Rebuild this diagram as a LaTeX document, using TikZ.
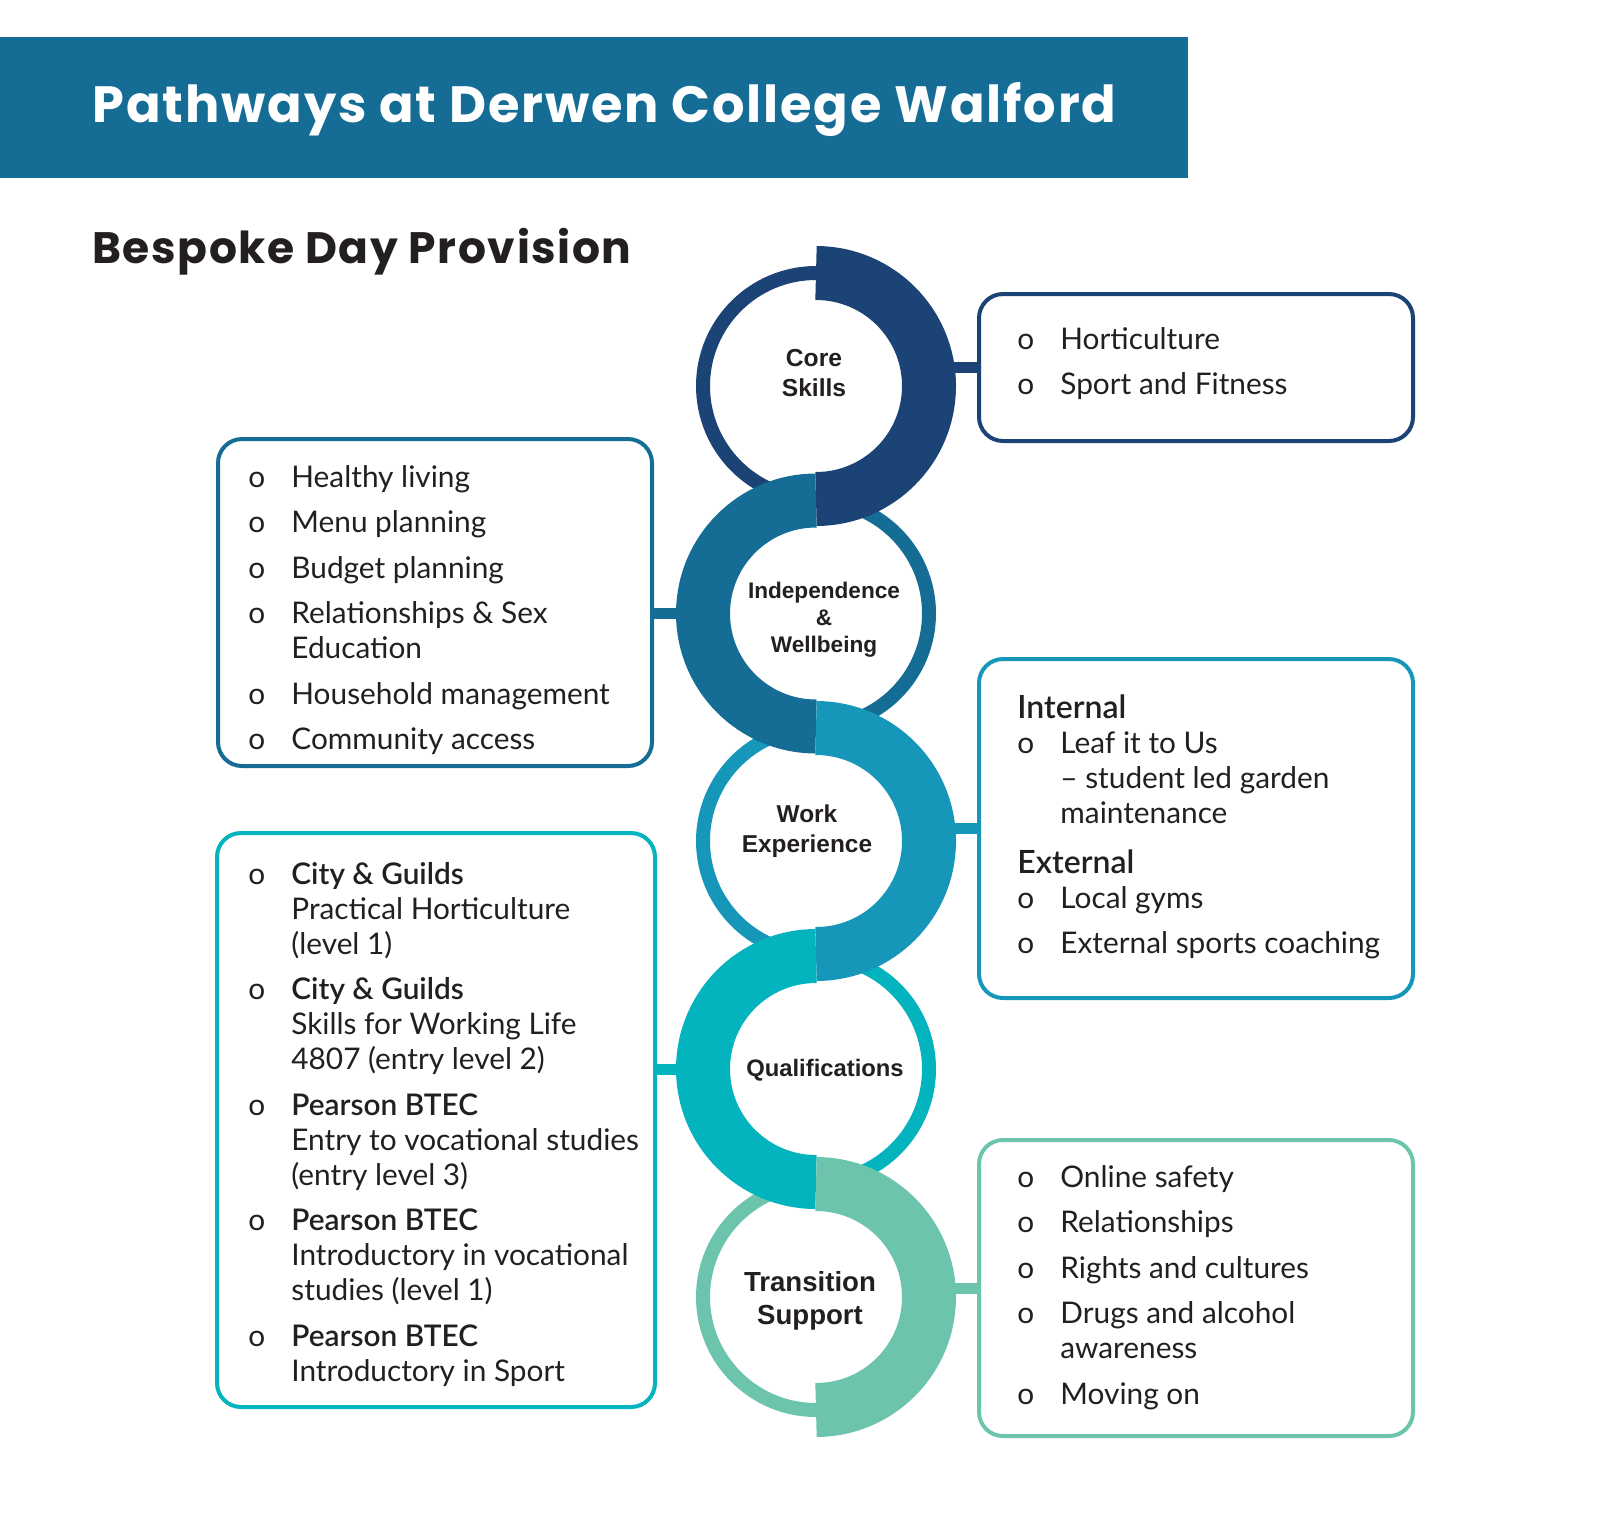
\documentclass[tikz,border=0pt]{standalone}
\usepackage{fontspec}
\setmainfont{Lato}
\newfontfamily\titlefont{Poppins}[LetterSpace=3.7]
\newfontfamily\subfont{Poppins}[LetterSpace=3.5]
\newfontfamily\ringfont{Liberation Sans}
\IfFontExistsTF{Lato Semibold}{\newfontfamily\semifont{Lato Semibold}}{\newcommand\semifont{\bfseries}}
\newcommand\headtext{\semifont\fontsize{16}{17.5}\selectfont}
\newcommand\bul{\makebox[21.5pt][l]{o}}

\definecolor{cscol}{HTML}{1B4375}
\definecolor{iwcol}{HTML}{156D95}
\definecolor{wecol}{HTML}{1697BA}
\definecolor{qucol}{HTML}{03B3BD}
\definecolor{tscol}{HTML}{6CC4AD}
\definecolor{ink}{HTML}{231F20}

\begin{document}
\begin{tikzpicture}[x=0.5pt, y=-0.5pt,
  box/.style={draw=#1, line width=2pt, rounded corners=12pt, inner sep=0pt},
  list/.style={anchor=base west, inner sep=0pt, text=ink, font=\fontsize{14.9}{17.5}\selectfont},
  link/.style={draw=#1, line width=5.5pt},
  ring/.style={draw=#1, line width=7pt, fill=white},
  half/.style={draw=#1, line width=27pt},
  lbl/.style={align=center, inner sep=0pt, text=ink}]
  \useasboundingbox (0,0) rectangle (1600,1512);

  % banner and headings
  \node[fill=iwcol, minimum width=594pt, minimum height=70.5pt, inner sep=0pt, anchor=north west] (banner) at (0,37) {};
  \node[anchor=base west, inner sep=0pt, text=white, font=\titlefont\bfseries\fontsize{25.5}{30}\selectfont] (title) at (92,122) {Pathways at Derwen College Walford};
  \node[anchor=base west, inner sep=0pt, text=ink, font=\subfont\bfseries\fontsize{22}{26}\selectfont] (subtitle) at (92,263) {Bespoke Day Provision};

  % ring centres
  \coordinate (c1) at (816,386);
  \coordinate (c2) at (816,613.5);
  \coordinate (c3) at (816,841);
  \coordinate (c4) at (816,1069);
  \coordinate (c5) at (816,1297);

  % boxes
  \node[box=cscol, minimum width=217pt, minimum height=73.5pt] (csbox) at (1196,367.5) {};
  \node[box=iwcol, minimum width=217pt, minimum height=163.5pt] (iwbox) at (435,602.5) {};
  \node[box=wecol, minimum width=217pt, minimum height=169.5pt] (webox) at (1196,828.5) {};
  \node[box=qucol, minimum width=219pt, minimum height=287pt] (qubox) at (436,1120) {};
  \node[box=tscol, minimum width=217pt, minimum height=148pt] (tsbox) at (1196,1288) {};

  % connectors
  \draw[link=cscol] (csbox.west) -- (csbox.west -| c1);
  \draw[link=iwcol] (c2) -- (c2 -| iwbox.east);
  \draw[link=wecol] (webox.west) -- (webox.west -| c3);
  \draw[link=qucol] (c4) -- (c4 -| qubox.east);
  \draw[link=tscol] (tsbox.west) -- (tsbox.west -| c5);

  % thin rings
  \draw[ring=cscol] (c1) circle[radius=56.5pt];
  \draw[ring=iwcol] (c2) circle[radius=56.5pt];
  \draw[ring=wecol] (c3) circle[radius=56.5pt];
  \draw[ring=qucol] (c4) circle[radius=56.5pt];
  \draw[ring=tscol] (c5) circle[radius=56.5pt];

  % thick halves
  \draw[half=cscol] (c1) ++(90:56.5pt) arc[start angle=90, end angle=-90, radius=56.5pt];
  \draw[half=iwcol] (c2) ++(90:56.5pt) arc[start angle=90, end angle=270, radius=56.5pt];
  \draw[half=wecol] (c3) ++(90:56.5pt) arc[start angle=90, end angle=-90, radius=56.5pt];
  \draw[half=qucol] (c4) ++(90:56.5pt) arc[start angle=90, end angle=270, radius=56.5pt];
  \draw[half=tscol] (c5) ++(90:56.5pt) arc[start angle=90, end angle=-90, radius=56.5pt];

  % ring labels
  \node[lbl, font=\ringfont\bfseries\fontsize{12.3}{15}\selectfont] (core) at (814,373) {Core\\Skills};
  \node[lbl, font=\ringfont\bfseries\fontsize{11.3}{13.5}\selectfont] (indep) at (824,620) {Independence\\\&\\Wellbeing};
  \node[lbl, font=\ringfont\bfseries\fontsize{12.2}{15}\selectfont] (work) at (807,831) {Work\\Experience};
  \node[lbl, font=\ringfont\bfseries\fontsize{11.9}{15}\selectfont] (qual) at (825,1070) {Qualifications};
  \node[lbl, font=\ringfont\bfseries\fontsize{13.8}{16.5}\selectfont] (trans) at (810,1301) {Transition\\Support};

  % box texts
  \node[list] (cstext) at (1017,349) {\begin{tabular}[t]{@{}l@{}l@{}}
    \bul & Horticulture\\[5.25pt]
    \bul & Sport and Fitness
  \end{tabular}};
  \node[list] (iwtext) at (248,487) {\begin{tabular}[t]{@{}l@{}l@{}}
    \bul & Healthy living\\[5.25pt]
    \bul & Menu planning\\[5.25pt]
    \bul & Budget planning\\[5.25pt]
    \bul & Relationships \& Sex\\
         & Education\\[5.25pt]
    \bul & Household management\\[5.25pt]
    \bul & Community access
  \end{tabular}};
  \node[list] (wetext) at (1017,718) {\begin{tabular}[t]{@{}l@{}l@{}}
    \multicolumn{2}{@{}l@{}}{\headtext Internal}\\
    \bul & Leaf it to Us\\
         & -- student led garden\\
         & maintenance\\[7.5pt]
    \multicolumn{2}{@{}l@{}}{\headtext External}\\
    \bul & Local gyms\\[5.25pt]
    \bul & External sports coaching
  \end{tabular}};
  \node[list] (qutext) at (248,884) {\begin{tabular}[t]{@{}l@{}l@{}}
    \bul & {\semifont City \& Guilds}\\
         & Practical Horticulture\\
         & (level 1)\\[5.25pt]
    \bul & {\semifont City \& Guilds}\\
         & Skills for Working Life\\
         & 4807 (entry level 2)\\[5.25pt]
    \bul & {\semifont Pearson BTEC}\\
         & Entry to vocational studies\\
         & (entry level 3)\\[5.25pt]
    \bul & {\semifont Pearson BTEC}\\
         & Introductory in vocational\\
         & studies (level 1)\\[5.25pt]
    \bul & {\semifont Pearson BTEC}\\
         & Introductory in Sport
  \end{tabular}};
  \node[list] (tstext) at (1017,1187) {\begin{tabular}[t]{@{}l@{}l@{}}
    \bul & Online safety\\[5.25pt]
    \bul & Relationships\\[5.25pt]
    \bul & Rights and cultures\\[5.25pt]
    \bul & Drugs and alcohol\\
         & awareness\\[5.25pt]
    \bul & Moving on
  \end{tabular}};
\end{tikzpicture}
\end{document}
